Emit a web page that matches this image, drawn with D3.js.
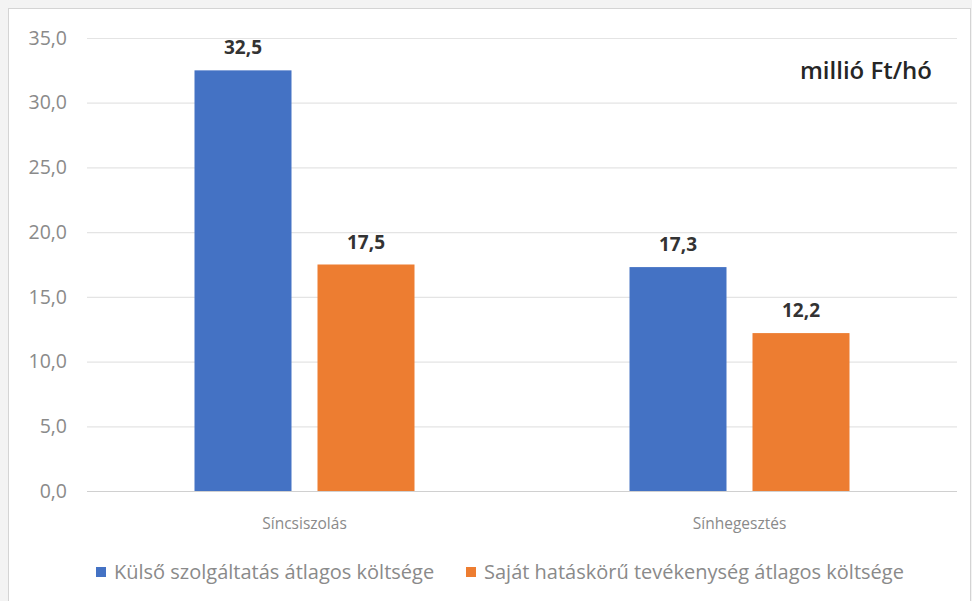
<!DOCTYPE html>
<html>
<head>
<meta charset="utf-8">
<script src="https://cdn.jsdelivr.net/npm/d3@7"></script>
<style>
  html, body { margin: 0; padding: 0; background: #f3f3f3; }
  svg { display: block; }
</style>
</head>
<body>
<svg id="chart" width="972" height="601"></svg>
<script>
// Havi átlagos költségek (millió Ft/hó)
const categories = ["Síncsiszolás", "Sínhegesztés"];
const seriesNames = ["Külső szolgáltatás átlagos költsége", "Saját hatáskörű tevékenység átlagos költsége"];
const externalCost = [32.5, 17.3];
const ownCost = [17.5, 12.2];
const yTicks = [0, 5, 10, 15, 20, 25, 30, 35];
const colors = ["#4472C4", "#ED7D31"];

const fmt = v => v.toFixed(1).replace(".", ",");
const font = "'Open Sans', 'Noto Sans', sans-serif";

const svg = d3.select("#chart");

// chart frame
svg.append("rect")
  .attr("x", 8.5).attr("y", 8.5)
  .attr("width", 962).attr("height", 600)
  .attr("fill", "#ffffff")
  .attr("stroke", "#d4d4d4");

const plot = { left: 87, right: 957, top: 38, bottom: 491 };

const x0 = d3.scaleBand()
  .domain(categories)
  .range([plot.left, plot.right])
  .paddingInner(0)
  .paddingOuter(0);

// two bars per category, centred in the band
const groupInset = 107.5;
const x1 = d3.scaleBand()
  .domain([0, 1])
  .range([groupInset, x0.bandwidth() - groupInset])
  .paddingInner(26 / 123)
  .paddingOuter(0);

const y = d3.scaleLinear().domain([0, 35]).range([plot.bottom, plot.top]);

// gridlines
svg.append("g")
  .selectAll("line")
  .data(yTicks)
  .join("line")
  .attr("x1", plot.left).attr("x2", plot.right)
  .attr("y1", d => y(d) + 0.5).attr("y2", d => y(d) + 0.5)
  .attr("stroke", d => d === 0 ? "#d0d0d0" : "#e4e4e4")
  .attr("stroke-width", 1.2);

// y axis labels
const yAxis = d3.axisLeft(y).tickValues(yTicks).tickFormat(fmt).tickSize(0).tickPadding(0);
const yg = svg.append("g").attr("transform", `translate(67,0)`).call(yAxis);
yg.select(".domain").remove();
yg.selectAll("text")
  .attr("font-family", font)
  .attr("font-size", 19.5)
  .attr("fill", "#8a8a8a");

// bars
const seriesValues = [externalCost, ownCost];
const groups = svg.append("g")
  .selectAll("g")
  .data(categories)
  .join("g")
  .attr("transform", d => `translate(${x0(d)},0)`);

groups.selectAll("rect")
  .data((d, i) => seriesValues.map((vals, s) => ({ s, v: vals[i] })))
  .join("rect")
  .attr("x", d => x1(d.s))
  .attr("width", x1.bandwidth())
  .attr("y", d => y(d.v))
  .attr("height", d => y(0) - y(d.v))
  .attr("fill", d => colors[d.s]);

groups.selectAll("text.val")
  .data((d, i) => seriesValues.map((vals, s) => ({ s, v: vals[i] })))
  .join("text")
  .attr("class", "val")
  .attr("x", d => x1(d.s) + x1.bandwidth() / 2)
  .attr("y", d => y(d.v) - 16)
  .attr("text-anchor", "middle")
  .attr("font-family", font)
  .attr("font-size", 19)
  .attr("font-weight", "bold")
  .attr("fill", "#333333")
  .text(d => fmt(d.v));

// category labels
const xAxis = d3.axisBottom(x0).tickSize(0).tickPadding(0);
const xg = svg.append("g").attr("transform", `translate(0,${plot.bottom + 38})`).call(xAxis);
xg.select(".domain").remove();
xg.selectAll("text")
  .attr("dy", 0)
  .attr("font-family", font)
  .attr("font-size", 15.5)
  .attr("fill", "#8a8a8a");

// unit label
svg.append("text")
  .attr("x", 932).attr("y", 79)
  .attr("text-anchor", "end")
  .attr("font-family", font)
  .attr("font-size", 24)
  .attr("font-weight", 600)
  .attr("fill", "#262626")
  .text("millió Ft/hó");

// legend
const legendX = [96, 466];
const legend = svg.append("g")
  .selectAll("g")
  .data(seriesNames)
  .join("g")
  .attr("transform", (d, i) => `translate(${legendX[i]},572)`);
legend.append("rect")
  .attr("x", 0).attr("y", -5)
  .attr("width", 10).attr("height", 10)
  .attr("fill", (d, i) => colors[i]);
legend.append("text")
  .attr("x", 18).attr("y", 7)
  .attr("font-family", font)
  .attr("font-size", 20)
  .attr("fill", "#8a8a8a")
  .text(d => d);
</script>
</body>
</html>
